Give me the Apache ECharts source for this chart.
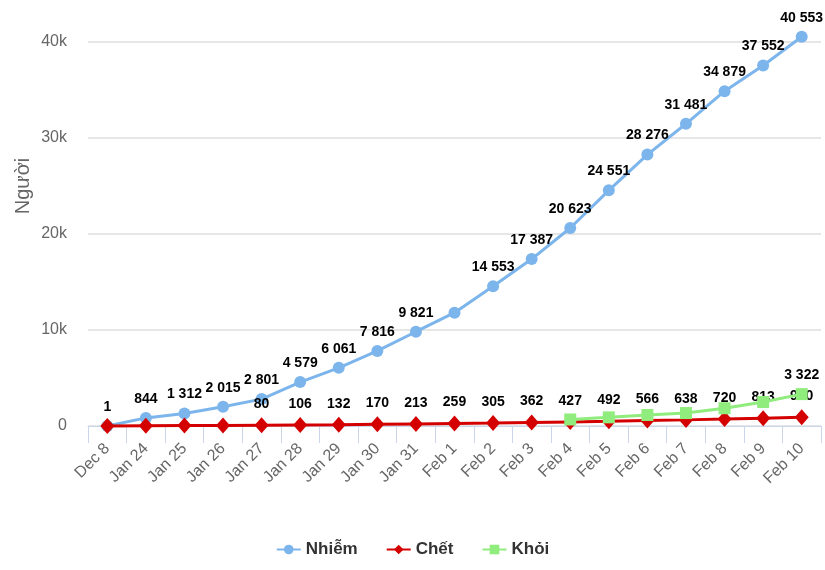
<!DOCTYPE html>
<html>
<head>
<meta charset="utf-8">
<script src="https://cdn.jsdelivr.net/npm/echarts@6/dist/echarts.min.js"></script>
<style>
html,body{margin:0;padding:0;background:#fff;}
#chart{width:825px;height:570px;}
</style>
</head>
<body>
<div id="chart"></div>
<script>
var categories = ['Dec 8','Jan 24','Jan 25','Jan 26','Jan 27','Jan 28','Jan 29','Jan 30','Jan 31',
  'Feb 1','Feb 2','Feb 3','Feb 4','Feb 5','Feb 6','Feb 7','Feb 8','Feb 9','Feb 10'];
var nhiem = [1,844,1312,2015,2801,4579,6061,7816,9821,11800,14553,17387,20623,24551,28276,31481,34879,37552,40553];
var chet = [0,26,41,56,80,106,132,170,213,259,305,362,427,492,566,638,720,813,910];
var khoi = [null,null,null,null,null,null,null,null,null,null,null,null,680,900,1150,1350,1850,2500,3322];
var nhiemHiddenLabels = ['Feb 1'];
var chetHiddenLabels = ['Dec 8','Jan 24','Jan 25','Jan 26'];
var khoiShownLabels = ['Feb 10'];

function fmt(v){ return String(v).replace(/\B(?=(\d{3})+(?!\d))/g,' '); }

var FONT = 'Liberation Sans, Arial, sans-serif';
var labelStyle = {show:true, position:'top', distance:6, color:'#000', fontFamily:FONT,
  fontWeight:'bold', fontSize:14, formatter:function(p){return fmt(p.value);}};

function build(values, showFn){
  return values.map(function(v,i){
    if (v === null) return null;
    return {value:v, label:{show:showFn(categories[i])}};
  });
}

var chart = echarts.init(document.getElementById('chart'), null, {renderer:'canvas'});
chart.setOption({
  animation:false,
  backgroundColor:'#fff',
  textStyle:{fontFamily:FONT},
  grid:{left:88,right:4,top:42,bottom:144,containLabel:false},
  graphic:[{type:'text', x:23, y:186, rotation:Math.PI/2,
    style:{text:'Người', fill:'#666', font:'20px ' + FONT, textAlign:'center', textVerticalAlign:'middle'}}],
  legend:{bottom:7, left:'center', itemWidth:24, itemHeight:12, itemGap:28,
    textStyle:{color:'#333', fontSize:17, fontWeight:'bold', fontFamily:FONT},
    data:['Nhiễm','Chết','Khỏi']},
  xAxis:{type:'category', data:categories, boundaryGap:true,
    axisLine:{lineStyle:{color:'#ccd6eb', width:1}},
    axisTick:{show:true, length:17, lineStyle:{color:'#ccd6eb'}},
    axisLabel:{rotate:45, color:'#666', fontSize:16, margin:20, interval:0}},
  yAxis:{type:'value', min:0, max:40000, interval:10000,
    axisLine:{show:false}, axisTick:{show:false},
    splitLine:{lineStyle:{color:'#e6e6e6', width:2}},
    axisLabel:{color:'#666', fontSize:16, margin:21, formatter:function(v){return v===0?'0':(v/1000)+'k';}}},
  series:[
    {name:'Nhiễm', type:'line', clip:false, data:build(nhiem,function(c){return nhiemHiddenLabels.indexOf(c)<0;}),
      symbol:'circle', symbolSize:12, color:'#7cb5ec', lineStyle:{width:3, color:'#7cb5ec'},
      itemStyle:{color:'#7cb5ec'}, label:labelStyle, z:3},
    {name:'Chết', type:'line', clip:false, data:build(chet,function(c){return chetHiddenLabels.indexOf(c)<0;}),
      symbol:'diamond', symbolSize:[14,16], color:'#d40000', lineStyle:{width:3, color:'#d40000'},
      itemStyle:{color:'#d40000'}, label:labelStyle, z:4},
    {name:'Khỏi', type:'line', clip:false, data:build(khoi,function(c){return khoiShownLabels.indexOf(c)>=0;}),
      symbol:'rect', symbolSize:12, color:'#90ed7d', lineStyle:{width:3, color:'#90ed7d'},
      itemStyle:{color:'#90ed7d'}, label:labelStyle, z:5}
  ]
});
</script>
</body>
</html>
